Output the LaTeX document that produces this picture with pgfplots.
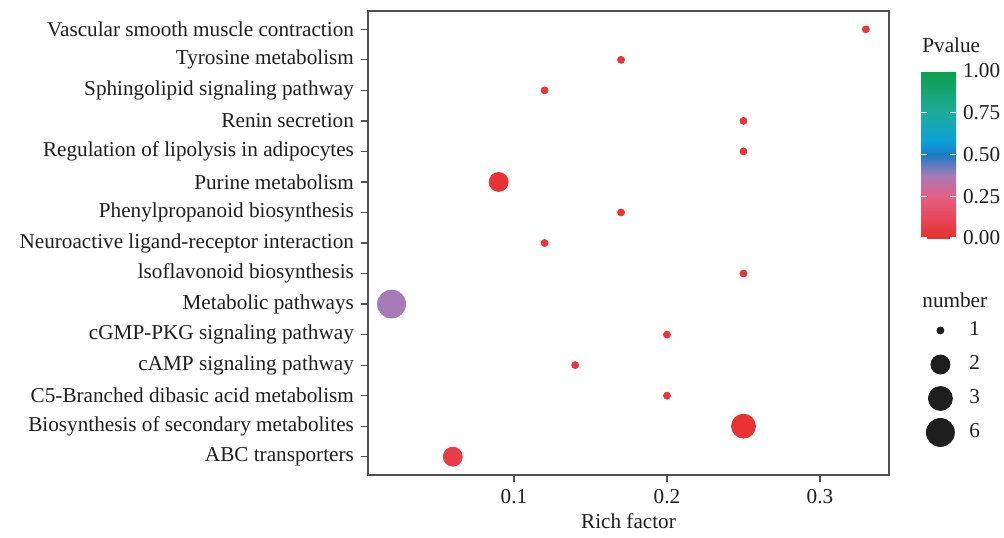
\documentclass[border=0pt]{standalone}
\usepackage{fontspec}
\setmainfont{Liberation Serif}
\usepackage{pgfplots}
\usepackage{pgfplotstable}
\pgfplotsset{compat=1.18}
\usetikzlibrary{calc}

\definecolor{txt}{HTML}{1E1E1E}
\definecolor{frame}{HTML}{505050}

% x = rich factor, y = row (bottom to top), n = gene number, s = mark radius (pt), p = p value
\pgfplotstableread{
x     y  n  s     p
0.06  1  2  4.75  0.07
0.25  2  3  6.00  0.01
0.20  3  1  1.75  0.03
0.14  4  1  1.75  0.03
0.20  5  1  1.75  0.03
0.02  6  6  7.00  0.375
0.25  7  1  1.75  0.03
0.12  8  1  1.75  0.03
0.17  9  1  1.75  0.03
0.09  10 2  4.75  0.01
0.25  11 1  1.75  0.03
0.25  12 1  1.75  0.03
0.12  13 1  1.75  0.03
0.17  14 1  1.75  0.03
0.33  15 1  1.75  0.03
}\pathways

\begin{document}
\begin{tikzpicture}
\begin{axis}[
    name=ax,
    at={(0,0)}, anchor=south west,
    scale only axis,
    width=260.5pt, height=232pt,
    xmin=0.0046, xmax=0.3451,
    ymin=0.4, ymax=15.6,
    xtick={0.1,0.2,0.3},
    ytick={1,...,15},
    yticklabels={ABC transporters, Biosynthesis of secondary metabolites, C5-Branched dibasic acid metabolism, cAMP signaling pathway, cGMP-PKG signaling pathway, Metabolic pathways, lsoflavonoid biosynthesis, Neuroactive ligand-receptor interaction, Phenylpropanoid biosynthesis, Purine metabolism, Regulation of lipolysis in adipocytes, Renin secretion, Sphingolipid signaling pathway, Tyrosine metabolism, Vascular smooth muscle contraction},
    xtick pos=bottom, ytick pos=left,
    tick align=outside,
    major tick length=3.5pt,
    axis line style={frame, line width=0.7pt},
    tick style={frame, line width=0.6pt},
    font=\fontsize{10.6}{12}\selectfont,
    ticklabel style={txt},
    /pgf/number format/assume math mode=true,
    xlabel={Rich factor},
    xlabel style={txt, yshift=2pt},
    colormap={pv}{rgb255(0)=(232,48,48) rgb255(0.25)=(229,95,133) rgb255(0.375)=(165,122,183) rgb255(0.5)=(25,122,198) rgb255(0.58)=(12,160,220) rgb255(0.75)=(30,172,155) rgb255(1)=(12,158,74)},
    point meta min=0, point meta max=1,
    colorbar,
    colorbar/width=17.5pt,
    colorbar style={
        scale only axis,
        height=83.5pt,
        at={(parent axis.north east)}, anchor=north west,
        xshift=16pt-0.3cm, yshift=-30pt,
        ytick={0,0.25,0.5,0.75,1},
        yticklabel={\pgfmathprintnumber[fixed,fixed zerofill,precision=2]{\tick}},
        ytick pos=both, yticklabel pos=right,
        tick align=inside,
        major tick length=3pt,
        ytick style={white, line width=0.6pt},
        axis line style={draw=none},
        ticklabel style={txt},
        font=\fontsize{10.6}{12}\selectfont,
        /pgf/number format/assume math mode=true,
    },
    legend style={
        at={(1,0.349)}, anchor=north west, xshift=18pt,
        draw=none, fill=none, inner sep=0pt,
        font=\fontsize{10.6}{12}\selectfont, text=txt,
        row sep=0pt,
        nodes={inner sep=1pt},
        /tikz/every odd column/.append style={column sep=6pt},
    },
    legend cell align=left,
    legend image code/.code={
        \path[draw=none, fill=none] (-7.5pt,-8.5pt) rectangle (7.5pt,8.5pt);
        \draw[#1] plot coordinates {(0pt,0pt)};
    },
]
\addplot[
    scatter, only marks, mark=*, forget plot,
    scatter/use mapped color={draw=mapped color, fill=mapped color},
    visualization depends on={\thisrow{s} \as \msize},
    scatter/@pre marker code/.append style={/tikz/mark size=\msize},
    point meta=\thisrow{p},
] table[x=x, y=y] {\pathways};

\addlegendimage{only marks, mark=*, mark size=1.75pt, txt}
\addlegendentry{1}
\addlegendimage{only marks, mark=*, mark size=4.75pt, txt}
\addlegendentry{2}
\addlegendimage{only marks, mark=*, mark size=6pt, txt}
\addlegendentry{3}
\addlegendimage{only marks, mark=*, mark size=7pt, txt}
\addlegendentry{6}
\end{axis}

\node[anchor=west, text=txt, font=\fontsize{10.6}{12}\selectfont, inner sep=0pt]
    at ([xshift=16.5pt, yshift=-17pt]ax.north east) {Pvalue};
\node[anchor=west, text=txt, font=\fontsize{10.6}{12}\selectfont, inner sep=0pt]
    at ([xshift=16.5pt, yshift=87.5pt]ax.south east) {number};

\pgfresetboundingbox
\path ([xshift=-184pt, yshift=-31pt]ax.south west) rectangle ([xshift=57.5pt, yshift=5.5pt]ax.north east);
\end{tikzpicture}
\end{document}
